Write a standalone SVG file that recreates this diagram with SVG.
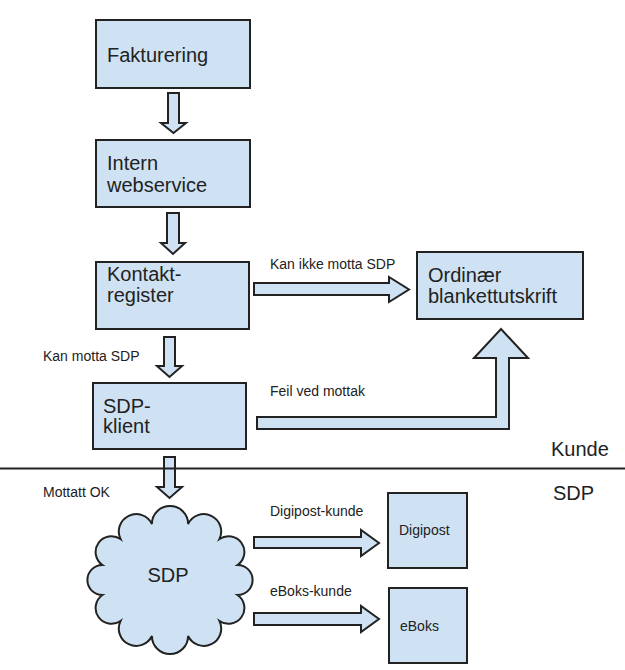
<svg xmlns="http://www.w3.org/2000/svg" width="625" height="670" viewBox="0 0 625 670">
<style>
.box{fill:#cfe2f3;stroke:#222;stroke-width:2}
.arr{fill:#cfe2f3;stroke:#222;stroke-width:2;stroke-linejoin:miter}
.big{font-family:"Liberation Sans",Arial,sans-serif;font-size:20px;fill:#222}
.lbl{font-family:"Liberation Sans",Arial,sans-serif;font-size:14px;fill:#222}
</style>
<rect width="625" height="670" fill="#fff"/>
<g id="fakturering"><rect class="box" x="96" y="20" width="154" height="68"/><text class="big" x="107" y="62">Fakturering</text></g>
<g id="intern"><rect class="box" x="96" y="140" width="154" height="67"/><text class="big" x="107" y="170">Intern</text><text class="big" x="107" y="192">webservice</text></g>
<g id="kontakt"><rect class="box" x="96" y="262" width="153" height="67"/><text class="big" x="107" y="281">Kontakt-</text><text class="big" x="107" y="302">register</text></g>
<g id="sdpklient"><rect class="box" x="93" y="383" width="153" height="66"/><text class="big" x="103" y="413">SDP-</text><text class="big" x="103" y="433">klient</text></g>
<g id="ordinaer"><rect class="box" x="417" y="252" width="166" height="67"/><text class="big" x="428" y="282">Ordinær</text><text class="big" x="428" y="303">blankettutskrift</text></g>
<g id="sdp"><path class="box" d="M237.6,595 A15,15 0 0 1 219.5,621 A15,15 0 0 1 188.1,636 A15,15 0 0 1 151.9,636 A15,15 0 0 1 120.5,621 A15,15 0 0 1 102.4,595 A15,15 0 0 1 102.4,565 A15,15 0 0 1 120.5,539 A15,15 0 0 1 151.9,524 A15,15 0 0 1 188.1,524 A15,15 0 0 1 219.5,539 A15,15 0 0 1 237.6,565 A15,15 0 0 1 237.6,595 Z"/><text class="big" x="168" y="582" text-anchor="middle">SDP</text></g>
<g id="digipost"><rect class="box" x="388" y="493" width="79" height="75"/><text class="lbl" x="399" y="535">Digipost</text></g>
<g id="eboks"><rect class="box" x="389" y="588" width="78" height="75"/><text class="lbl" x="400" y="631">eBoks</text></g>
<g id="connectors">
<path class="arr" d="M168,93 H179 V123 H186 L173.5,133 L161,123 H168 Z"/>
<path class="arr" d="M167,213 H179 V243 H185 L173,254 L161,243 H167 Z"/>
<path class="arr" d="M164,337 H175 V366 H182 L169.5,377 L157,366 H164 Z"/>
<path class="arr" d="M164,457 H175 V487 H182 L169.5,498 L157,487 H164 Z"/>
<path class="arr" d="M254,283 H389 V277 L409,289.5 L389,302 V295 H254 Z"/>
<path class="arr" d="M254,537 H361 V530 L379,543 L361,556 V548 H254 Z"/>
<path class="arr" d="M254,613 H361 V606 L379,619 L361,632 V625 H254 Z"/>
<path class="arr" d="M257,417 H496 V358 H474 L501,329 L528,358 H509 V429 H257 Z"/>
<text class="lbl" x="270" y="269">Kan ikke motta SDP</text>
<text class="lbl" x="43" y="361">Kan motta SDP</text>
<text class="lbl" x="270" y="396">Feil ved mottak</text>
<text class="lbl" x="43" y="497">Mottatt OK</text>
<text class="lbl" x="270" y="516">Digipost-kunde</text>
<text class="lbl" x="270" y="596">eBoks-kunde</text>
</g>
<g id="separator"><line x1="0" y1="468.5" x2="625" y2="468.5" stroke="#222" stroke-width="2"/><text class="big" x="551" y="456">Kunde</text><text class="big" x="553" y="500">SDP</text></g>
</svg>
